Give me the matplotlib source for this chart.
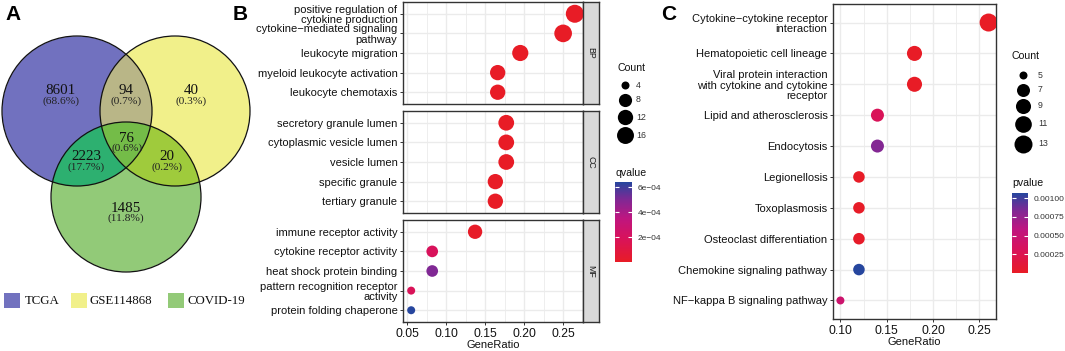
import numpy as np
import matplotlib
matplotlib.use('Agg')
import matplotlib.pyplot as plt
from matplotlib.colors import LinearSegmentedColormap, Normalize
from matplotlib.cm import ScalarMappable
from matplotlib.patches import Circle, Rectangle
from matplotlib.ticker import MultipleLocator, FormatStrFormatter

W, H, DPI = 1065, 351, 100

# ---------------- data ----------------
venn_names = ['TCGA', 'GSE114868', 'COVID-19']
venn_regions = ['100', '110', '010', '111', '101', '011', '001']
venn_counts = [8601, 94, 40, 76, 2223, 20, 1485]

bp_terms = ['positive regulation of\ncytokine production',
            'cytokine\u2212mediated signaling\npathway',
            'leukocyte migration', 'myeloid leukocyte activation',
            'leukocyte chemotaxis']
bp_ratio = [0.265, 0.250, 0.195, 0.166, 0.166]
bp_count = [19, 18, 14, 12, 12]
bp_q = [2e-8, 5e-8, 2e-7, 3e-6, 2e-6]

cc_terms = ['secretory granule lumen', 'cytoplasmic vesicle lumen',
            'vesicle lumen', 'specific granule', 'tertiary granule']
cc_ratio = [0.177, 0.177, 0.177, 0.163, 0.163]
cc_count = [13, 13, 13, 12, 12]
cc_q = [1e-6, 1e-6, 1e-6, 2e-6, 2e-6]

mf_terms = ['immune receptor activity', 'cytokine receptor activity',
            'heat shock protein binding',
            'pattern recognition receptor\nactivity',
            'protein folding chaperone']
mf_ratio = [0.137, 0.082, 0.082, 0.055, 0.055]
mf_count = [10, 6, 6, 4, 4]
mf_q = [1e-5, 1.9e-4, 5.0e-4, 1.8e-4, 6.4e-4]

kegg_terms = ['Cytokine\u2212cytokine receptor\ninteraction',
              'Hematopoietic cell lineage',
              'Viral protein interaction\nwith cytokine and cytokine\nreceptor',
              'Lipid and atherosclerosis', 'Endocytosis', 'Legionellosis',
              'Toxoplasmosis', 'Osteoclast differentiation',
              'Chemokine signaling pathway', 'NF\u2212kappa B signaling pathway']
kegg_ratio = [0.26, 0.18, 0.18, 0.14, 0.14, 0.12, 0.12, 0.12, 0.12, 0.10]
kegg_count = [13, 9, 9, 7, 7, 6, 6, 6, 6, 5]
kegg_p = [1e-7, 2e-6, 3e-6, 3.0e-4, 8.2e-4, 1e-5, 1.5e-5, 2e-5, 1.07e-3, 4.5e-4]

b_size_breaks = [4, 8, 12, 16]
c_size_breaks = [5, 7, 9, 11, 13]
b_q_ticks = [2e-4, 4e-4, 6e-4]
b_q_labels = ['2e\u221204', '4e\u221204', '6e\u221204']
c_p_ticks = [0.00025, 0.0005, 0.00075, 0.001]
c_p_labels = ['0.00025', '0.00050', '0.00075', '0.00100']

# ---------------- styles ----------------
SANS = ['Liberation Sans', 'DejaVu Sans']
SERIF = ['Liberation Serif', 'DejaVu Serif']
plt.rcParams['font.family'] = SANS

YLAB = 8.0
XTICK = 8.8
XLAB = 8.0

venn_colors = {'100': '#7272BF', '110': '#BAB687', '010': '#F1F08A',
               '111': '#74BC48', '101': '#2DB070', '011': '#9FCB3C',
               '001': '#93CA78'}
legend_colors = ['#7272BF', '#F1F08A', '#93CA78']

cmap = LinearSegmentedColormap.from_list('rb', [
    (0.0, (232/255, 28/255, 38/255)),
    (0.3, (216/255, 18/255, 92/255)),
    (0.55, (190/255, 22/255, 128/255)),
    (0.78, (128/255, 40/255, 148/255)),
    (1.0, (38/255, 70/255, 158/255))])

fig = plt.figure(figsize=(W / DPI, H / DPI), dpi=DPI)


def rect(l, t, r, b):
    return [l / W, 1 - b / H, (r - l) / W, (b - t) / H]


def diam_px(c, cmin, cmax):
    return 8 + 10 * np.sqrt((np.asarray(c, float) - cmin) / (cmax - cmin))


def s_of(c, cmin, cmax):
    return (diam_px(c, cmin, cmax) * 72 / DPI) ** 2


def style_ax(ax):
    for sp in ax.spines.values():
        sp.set_color('#333333')
        sp.set_linewidth(1.0)
    ax.grid(which='major', color='#EBEBEB', lw=1.0)
    ax.grid(which='minor', axis='x', color='#EBEBEB', lw=0.6)
    ax.set_axisbelow(True)
    ax.tick_params(axis='both', which='major', length=2.5, width=0.7,
                   color='#333333', pad=1.5, labelcolor='#111111')
    ax.tick_params(axis='y', labelsize=YLAB)
    ax.tick_params(axis='x', labelsize=XTICK, pad=1.5)
    ax.tick_params(which='minor', length=0)


# ---------------- panel B ----------------
all_b_count = bp_count + cc_count + mf_count
bmin, bmax = min(all_b_count), max(all_b_count)
all_b_ratio = bp_ratio + cc_ratio + mf_ratio
rng = max(all_b_ratio) - min(all_b_ratio)
bxlim = (min(all_b_ratio) - 0.05 * rng, max(all_b_ratio) + 0.05 * rng)
all_q = bp_q + cc_q + mf_q
bnorm = Normalize(min(all_q), max(all_q))

b_rows = [(bp_terms, bp_ratio, bp_count, bp_q, 'BP', 2, 104),
          (cc_terms, cc_ratio, cc_count, cc_q, 'CC', 111, 213),
          (mf_terms, mf_ratio, mf_count, mf_q, 'MF', 220, 322)]
for i, (terms, ratio, count, q, lab, t, b) in enumerate(b_rows):
    ax = fig.add_axes(rect(403, t, 583, b))
    y = np.arange(len(terms))
    ax.scatter(ratio, y, s=s_of(count, bmin, bmax), c=q, cmap=cmap,
               norm=bnorm, linewidths=0, zorder=3)
    ax.set_xlim(*bxlim)
    ax.set_ylim(len(terms) - 0.4, -0.6)
    ax.set_yticks(y)
    ax.set_yticklabels(terms, linespacing=1.08)
    ax.xaxis.set_major_locator(MultipleLocator(0.05))
    ax.xaxis.set_minor_locator(MultipleLocator(0.025))
    style_ax(ax)
    if i < 2:
        ax.tick_params(axis='x', labelbottom=False, length=0)
    else:
        ax.xaxis.set_major_formatter(FormatStrFormatter('%.2f'))
        ax.set_xlabel('GeneRatio', fontsize=XLAB, labelpad=0.5, color='#111111')
    sax = fig.add_axes(rect(583, t, 599, b))
    sax.set_facecolor('#D9D9D9')
    sax.set_xticks([])
    sax.set_yticks([])
    for sp in sax.spines.values():
        sp.set_color('#333333')
        sp.set_linewidth(1.0)
    sax.text(0.5, 0.5, lab, rotation=270, ha='center', va='center',
             fontsize=6.3, color='#1A1A1A', transform=sax.transAxes)

# ---------------- panel C ----------------
cmin, cmax = min(kegg_count), max(kegg_count)
rng = max(kegg_ratio) - min(kegg_ratio)
cnorm = Normalize(min(kegg_p), max(kegg_p))
axc = fig.add_axes(rect(833, 4, 996, 319))
yc = np.arange(len(kegg_terms))
axc.scatter(kegg_ratio, yc, s=s_of(kegg_count, cmin, cmax), c=kegg_p,
            cmap=cmap, norm=cnorm, linewidths=0, zorder=3)
axc.set_xlim(min(kegg_ratio) - 0.05 * rng, max(kegg_ratio) + 0.05 * rng)
axc.set_ylim(len(kegg_terms) - 0.4, -0.6)
axc.set_yticks(yc)
axc.set_yticklabels(kegg_terms, linespacing=1.1)
axc.xaxis.set_major_locator(MultipleLocator(0.05))
axc.xaxis.set_minor_locator(MultipleLocator(0.025))
axc.xaxis.set_major_formatter(FormatStrFormatter('%.2f'))
style_ax(axc)
axc.set_xlabel('GeneRatio', fontsize=XLAB, labelpad=0.5, color='#111111')

# ---------------- overlay (pixel coords) ----------------
ov = fig.add_axes([0, 0, 1, 1], zorder=10)
ov.axis('off')

# Venn
centers = [(77, 111), (175, 111), (126, 197)]
R = 75
res = 4
xs = (np.arange(0, 250 * res) + 0.5) / res
ys = (np.arange(30 * res, 280 * res) + 0.5) / res
X, Y = np.meshgrid(xs, ys)
ins = [((X - cx) ** 2 + (Y - cy) ** 2) <= R ** 2 for cx, cy in centers]
code = ins[0] * 4 + ins[1] * 2 + ins[2] * 1
img = np.ones(X.shape + (4,))
img[..., 3] = 0
for key, colr in venn_colors.items():
    m = code == int(key, 2)
    img[m, :3] = matplotlib.colors.to_rgb(colr)
    img[m, 3] = 1
ov.imshow(img, extent=(0, 250, 280, 30), interpolation='bilinear',
          aspect='auto', zorder=1)
for cx, cy in centers:
    ov.add_patch(Circle((cx, cy), R, fill=False, ec='#111111', lw=0.9, zorder=2))
ov.set_xlim(0, W)
ov.set_ylim(H, 0)

total = sum(venn_counts)
label_pos = {'100': (61, 91), '110': (126, 91), '010': (191, 91),
             '111': (127, 138), '101': (86, 157), '011': (167, 157),
             '001': (126, 208)}
for key, n in zip(venn_regions, venn_counts):
    x, y = label_pos[key]
    ov.text(x, y, f'{n}', ha='center', va='center', fontsize=10.8,
            family=SERIF, color='#111111', zorder=3)
    ov.text(x, y + 10.5, f'({100 * n / total:.1f}%)', ha='center',
            va='center', fontsize=8.2, family=SERIF, color='#222222', zorder=3)

for (sx, tx), name, colr in zip([(4, 25), (71, 90), (168, 188)], venn_names,
                                legend_colors):
    ov.add_patch(Rectangle((sx, 293), 16, 15, fc=colr, ec='none', zorder=2))
    ov.text(tx, 301, name, ha='left', va='center', fontsize=9.3,
            family=SERIF, color='#111111', zorder=3)

# panel letters
for lt, x, y in [('A', 13, 15), ('B', 240, 15), ('C', 669, 14)]:
    ov.text(x, y, lt, ha='center', va='center', fontsize=15,
            fontweight='bold', color='black')

# size legends
ov.text(617, 68, 'Count', ha='left', va='center', fontsize=7.6, color='#111111')
for c, y in zip(b_size_breaks, [85, 100, 117, 135]):
    ov.scatter([625], [y], s=s_of(c, bmin, bmax), c='black', linewidths=0)
    ov.text(636, y, str(c), ha='left', va='center', fontsize=6.3, color='#333333')

ov.text(1012, 56, 'Count', ha='left', va='center', fontsize=7.6, color='#111111')
for c, y in zip(c_size_breaks, [75, 90, 106, 124, 144]):
    ov.scatter([1023], [y], s=s_of(c, cmin, cmax), c='black', linewidths=0)
    ov.text(1038, y, str(c), ha='left', va='center', fontsize=6.3, color='#333333')

# colour bars
ov.text(616, 173, 'qvalue', ha='left', va='center', fontsize=7.6, color='#111111')
ov.text(1012, 183, 'pvalue', ha='left', va='center', fontsize=7.6, color='#111111')


def cbar(l, t, r, b, norm, ticks, labels):
    cax = fig.add_axes(rect(l, t, r, b), zorder=5)
    cb = fig.colorbar(ScalarMappable(norm=norm, cmap=cmap), cax=cax)
    cb.outline.set_visible(False)
    cb.set_ticks(ticks)
    cb.set_ticklabels(labels)
    cax.tick_params(axis='y', which='both', direction='in', color='white',
                    length=3, width=0.8, left=True, right=True,
                    labelsize=6, labelcolor='#333333', pad=4)
    cax.minorticks_off()


cbar(615, 182, 632, 262, bnorm, b_q_ticks, b_q_labels)
cbar(1012, 193, 1028, 273, cnorm, c_p_ticks, c_p_labels)

fig.savefig('out.png', dpi=DPI)
